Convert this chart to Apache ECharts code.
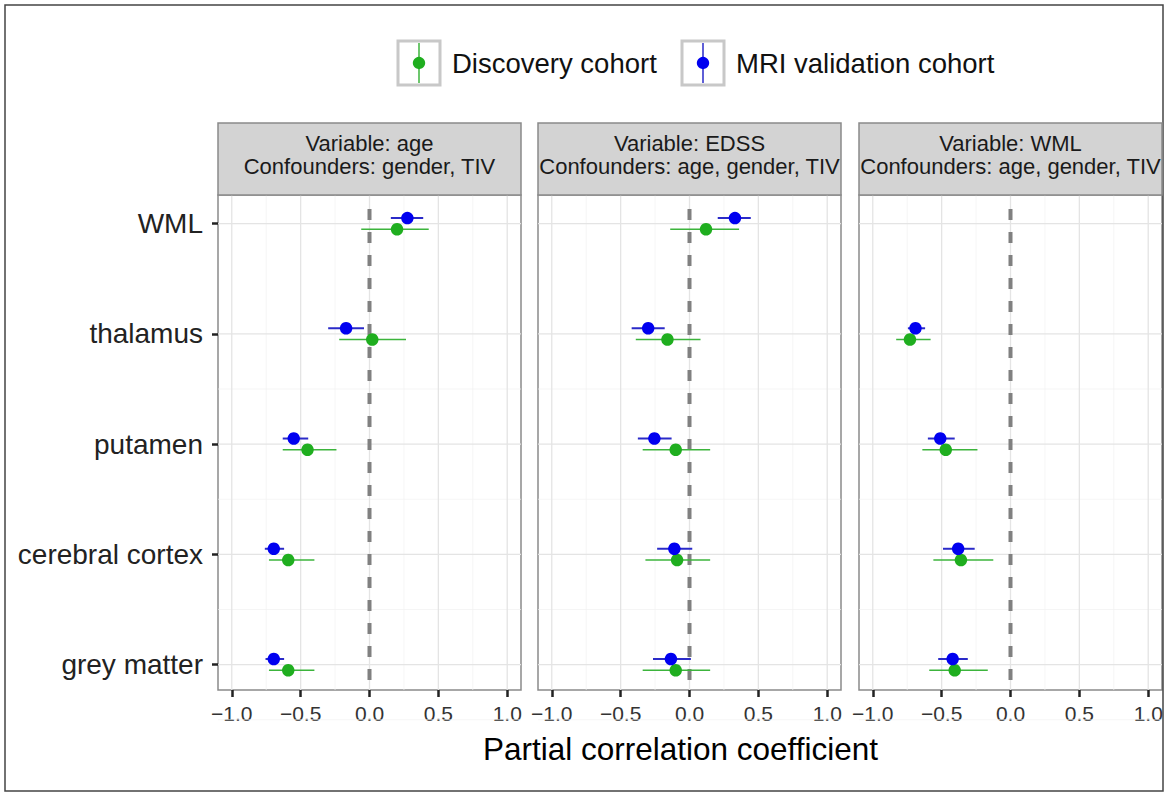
<!DOCTYPE html>
<html><head><meta charset="utf-8">
<script src="https://cdn.jsdelivr.net/npm/echarts@6.0.0/dist/echarts.min.js"></script>
<style>html,body{margin:0;padding:0;background:#fff}#chart{width:1168px;height:796px}</style>
</head><body><div id="chart"></div>
<script>
// ---------- data ----------
const regions = ['WML', 'thalamus', 'putamen', 'cerebral cortex', 'grey matter'];
const variables = ['age', 'EDSS', 'WML'];
const confounders = ['gender, TIV', 'age, gender, TIV', 'age, gender, TIV'];
const cohorts = ['Discovery cohort', 'MRI validation cohort'];
const xTicks = [-1.0, -0.5, 0.0, 0.5, 1.0];
const xMinorTicks = [-0.75, -0.25, 0.25, 0.75];

// Discovery cohort (estimate, lower, upper) per panel, rows in regions order
const discAgeEst  = [0.20, 0.02, -0.45, -0.59, -0.59];
const discAgeLo   = [-0.06, -0.22, -0.63, -0.73, -0.73];
const discAgeHi   = [0.43, 0.265, -0.24, -0.40, -0.40];
const discEdssEst = [0.12, -0.16, -0.10, -0.09, -0.10];
const discEdssLo  = [-0.14, -0.39, -0.34, -0.32, -0.34];
const discEdssHi  = [0.36, 0.08, 0.15, 0.15, 0.15];
const discWmlEst  = [null, -0.73, -0.47, -0.36, -0.405];
const discWmlLo   = [null, -0.83, -0.64, -0.56, -0.59];
const discWmlHi   = [null, -0.58, -0.24, -0.125, -0.165];

// MRI validation cohort
const mriAgeEst  = [0.275, -0.17, -0.55, -0.695, -0.695];
const mriAgeLo   = [0.155, -0.30, -0.63, -0.76, -0.755];
const mriAgeHi   = [0.39, -0.04, -0.445, -0.62, -0.62];
const mriEdssEst = [0.33, -0.30, -0.255, -0.11, -0.135];
const mriEdssLo  = [0.205, -0.42, -0.375, -0.235, -0.265];
const mriEdssHi  = [0.445, -0.18, -0.13, 0.02, 0.01];
const mriWmlEst  = [null, -0.69, -0.51, -0.38, -0.42];
const mriWmlLo   = [null, -0.745, -0.60, -0.49, -0.525];
const mriWmlHi   = [null, -0.62, -0.405, -0.26, -0.31];

// ---------- layout / style ----------
const PANEL_LEFT = [218, 538, 859];
const PANEL_W = 303, PANEL_TOP = 195, PANEL_H = 495, STRIP_TOP = 123;
const Y_MIN = -0.23, Y_MAX = 4.26;
const DODGE = 0.051;
const FONT = 'Liberation Sans, Arial, sans-serif';
const cohortStyle = [
  { key: 'disc', dot: '#1fae1f', line: '#3cb43c', lw: 1.6, off: -DODGE },
  { key: 'mri',  dot: '#0000f0', line: '#2a2ac8', lw: 2,   off: DODGE }
];
const estimates = {
  disc: [[discAgeEst, discAgeLo, discAgeHi], [discEdssEst, discEdssLo, discEdssHi], [discWmlEst, discWmlLo, discWmlHi]],
  mri:  [[mriAgeEst, mriAgeLo, mriAgeHi], [mriEdssEst, mriEdssLo, mriEdssHi], [mriWmlEst, mriWmlLo, mriWmlHi]]
};
const yPos = i => regions.length - 1 - i;
const yMajor = regions.map((r, i) => yPos(i));
const yMinor = yMajor.slice(1).map(v => v - 0.5);

const grids = [], xAxes = [], yAxes = [], series = [], graphics = [];

PANEL_LEFT.forEach((left, p) => {
  grids.push({ left: left, top: PANEL_TOP, width: PANEL_W, height: PANEL_H, show: true,
    backgroundColor: '#fff', borderColor: '#8a8a8a', borderWidth: 1.5 });
  xAxes.push({
    gridIndex: p, type: 'value', min: -1.1, max: 1.1, position: 'bottom',
    axisLine: { show: false, onZero: false }, splitLine: { show: false },
    axisTick: { show: true, length: 7, customValues: xTicks, lineStyle: { color: '#222', width: 2.5 } },
    axisLabel: { customValues: xTicks, formatter: v => (v < 0 ? '\u2212' : '') + Math.abs(v).toFixed(1),
      fontSize: 21, color: '#333', margin: 13, fontFamily: FONT },
    name: p === 1 ? 'Partial correlation coefficient' : '',
    nameLocation: 'middle', nameGap: 43,
    nameTextStyle: { fontSize: 31.5, color: '#000', fontFamily: FONT, padding: [0, 18, 0, 0] }
  });
  yAxes.push({
    gridIndex: p, type: 'value', min: Y_MIN, max: Y_MAX, position: 'left',
    axisLine: { show: false, onZero: false }, splitLine: { show: false },
    axisTick: { show: p === 0, length: 6, customValues: yMajor, lineStyle: { color: '#222', width: 2.5 } },
    axisLabel: { show: p === 0, customValues: yMajor, formatter: v => regions[yPos(Math.round(v))],
      fontSize: 28, color: '#222', margin: 15, fontFamily: FONT }
  });

  // background grid lines
  const gridData = [];
  xMinorTicks.forEach(v => gridData.push([v, 0, 0]));
  yMinor.forEach(v => gridData.push([0, v, 1]));
  xTicks.forEach(v => gridData.push([v, 0, 2]));
  yMajor.forEach(v => gridData.push([0, v, 3]));
  series.push({
    type: 'custom', xAxisIndex: p, yAxisIndex: p, silent: true, z: 1, data: gridData,
    renderItem: (params, api) => {
      const cs = params.coordSys;
      const kind = api.value(2);
      const major = kind >= 2;
      const st = { stroke: major ? '#e4e4e4' : '#f1f1f1', lineWidth: major ? 1.3 : 0.7 };
      if (kind === 0 || kind === 2) {
        const pt = api.coord([api.value(0), 0]);
        return { type: 'line', shape: { x1: pt[0], y1: cs.y, x2: pt[0], y2: cs.y + cs.height }, style: st };
      }
      const pt = api.coord([0, api.value(1)]);
      return { type: 'line', shape: { x1: cs.x, y1: pt[1], x2: cs.x + cs.width, y2: pt[1] }, style: st };
    }
  });
  // dashed zero reference line
  series.push({
    type: 'custom', xAxisIndex: p, yAxisIndex: p, silent: true, z: 2, data: [[0]],
    renderItem: (params, api) => {
      const cs = params.coordSys;
      const pt = api.coord([api.value(0), 0]);
      return { type: 'line', shape: { x1: pt[0], y1: cs.y + 14, x2: pt[0], y2: cs.y + cs.height },
        style: { stroke: '#808080', lineWidth: 4, lineDash: [11, 12] } };
    }
  });

  cohortStyle.forEach((cs, c) => {
    const [est, lo, hi] = estimates[cs.key][p];
    const barData = [], ptData = [];
    regions.forEach((r, i) => {
      if (est[i] == null) return;
      barData.push([lo[i], hi[i], yPos(i) + cs.off]);
      ptData.push([est[i], yPos(i) + cs.off]);
    });
    series.push({
      type: 'custom', name: cohorts[c], xAxisIndex: p, yAxisIndex: p, z: 3, data: barData,
      encode: { x: [0, 1], y: 2 },
      renderItem: (params, api) => {
        const a = api.coord([api.value(0), api.value(2)]);
        const b = api.coord([api.value(1), api.value(2)]);
        return { type: 'line', shape: { x1: a[0], y1: a[1], x2: b[0], y2: b[1] },
          style: { stroke: cs.line, lineWidth: cs.lw } };
      }
    });
    series.push({
      type: 'scatter', name: cohorts[c], xAxisIndex: p, yAxisIndex: p, z: 4, data: ptData,
      symbol: 'circle', symbolSize: 12.5, itemStyle: { color: cs.dot, opacity: 1 }
    });
  });

  // facet strip
  graphics.push({ type: 'rect', shape: { x: left, y: STRIP_TOP, width: PANEL_W, height: PANEL_TOP - STRIP_TOP },
    style: { fill: '#d3d3d3', stroke: '#8a8a8a', lineWidth: 1.5 }, z: 10 });
  graphics.push({ type: 'text', x: left + PANEL_W / 2, y: (STRIP_TOP + PANEL_TOP) / 2 - 4, z: 11,
    style: { text: 'Variable: ' + variables[p] + '\nConfounders: ' + confounders[p],
      textAlign: 'center', textVerticalAlign: 'middle', font: '22px ' + FONT, fill: '#1a1a1a', lineHeight: 23 } });
});

// legend
const legendX = [398, 682];
cohortStyle.forEach((cs, c) => {
  const x = legendX[c], y = 41, w = 42, h = 44;
  graphics.push({ type: 'rect', shape: { x: x, y: y, width: w, height: h },
    style: { fill: '#fff', stroke: '#c8c8c8', lineWidth: 3 }, z: 10 });
  graphics.push({ type: 'line', shape: { x1: x + w / 2, y1: y + 2, x2: x + w / 2, y2: y + h - 2 },
    style: { stroke: cs.line, lineWidth: 1.5 }, z: 11 });
  graphics.push({ type: 'circle', shape: { cx: x + w / 2, cy: y + h / 2, r: 6.2 },
    style: { fill: cs.dot }, z: 12 });
  graphics.push({ type: 'text', x: x + w + 12, y: y + h / 2, z: 11,
    style: { text: cohorts[c], textVerticalAlign: 'middle', font: '27.5px ' + FONT, fill: '#111' } });
});
// outer frame
graphics.push({ type: 'rect', shape: { x: 5, y: 5, width: 1158, height: 786 },
  style: { fill: 'none', stroke: '#444', lineWidth: 1.5 }, z: 0, silent: true });

const chart = echarts.init(document.getElementById('chart'), null, { renderer: 'svg' });
chart.setOption({
  animation: false,
  backgroundColor: '#fff',
  grid: grids, xAxis: xAxes, yAxis: yAxes, series: series, graphic: graphics
});
</script>
</body></html>
